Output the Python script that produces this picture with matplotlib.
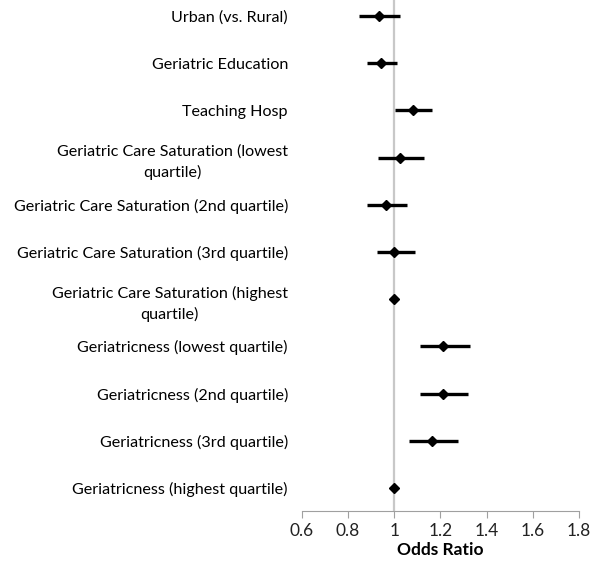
import numpy as np
import matplotlib.pyplot as plt

labels = [
    "Urban (vs. Rural)",
    "Geriatric Education",
    "Teaching Hosp",
    "Geriatric Care Saturation (lowest\nquartile)",
    "Geriatric Care Saturation (2nd quartile)",
    "Geriatric Care Saturation (3rd quartile)",
    "Geriatric Care Saturation (highest\nquartile)",
    "Geriatricness (lowest quartile)",
    "Geriatricness (2nd quartile)",
    "Geriatricness (3rd quartile)",
    "Geriatricness (highest quartile)",
]
odds = [0.933, 0.944, 1.081, 1.025, 0.964, 1.001, 1.0, 1.213, 1.210, 1.163, 1.0]
ci_low = [0.846, 0.883, 1.004, 0.932, 0.883, 0.925, 1.0, 1.111, 1.111, 1.062, 1.0]
ci_high = [1.025, 1.012, 1.163, 1.128, 1.057, 1.089, 1.0, 1.327, 1.321, 1.275, 1.0]
xticks = [0.6, 0.8, 1.0, 1.2, 1.4, 1.6, 1.8]
xtick_labels = ["0.6", "0.8", "1", "1.2", "1.4", "1.6", "1.8"]


def main():
    plt.rcParams["font.family"] = ["Lato", "DejaVu Sans"]
    fig = plt.figure(figsize=(6, 5.63), dpi=100)
    ax = fig.add_axes([0.503, 0.0924, 0.462, 0.9076])

    y = np.arange(1, len(labels) + 1)
    odds_a = np.array(odds)
    err = [odds_a - np.array(ci_low), np.array(ci_high) - odds_a]

    ax.axvline(1.0, color="#c8c8c8", lw=1.6, zorder=1)
    ax.errorbar(odds_a, y, xerr=err, fmt="D", color="black", ecolor="black",
                elinewidth=2.4, capsize=0, markersize=5, zorder=3)

    ax.set_xlim(0.6, 1.8)
    ax.set_ylim(11.487, 0.661)
    ax.set_xticks(xticks)
    ax.set_xticklabels(xtick_labels, fontsize=12.5, color="#222222")
    ax.set_yticks(y)
    ax.set_yticklabels(labels, fontsize=11.6, multialignment="center")
    for lbl in ax.get_yticklabels():
        lbl.set_linespacing(1.5)
    ax.tick_params(axis="y", length=0, pad=10)
    ax.tick_params(axis="x", length=5, color="#a0a0a0", pad=4)

    for side in ["top", "right", "left"]:
        ax.spines[side].set_visible(False)
    ax.spines["bottom"].set_color("#a0a0a0")

    ax.set_xlabel("Odds Ratio", fontsize=12.5, fontweight="bold", labelpad=2)

    fig.savefig("out.png", dpi=100)
    plt.close(fig)


if __name__ == "__main__":
    main()
